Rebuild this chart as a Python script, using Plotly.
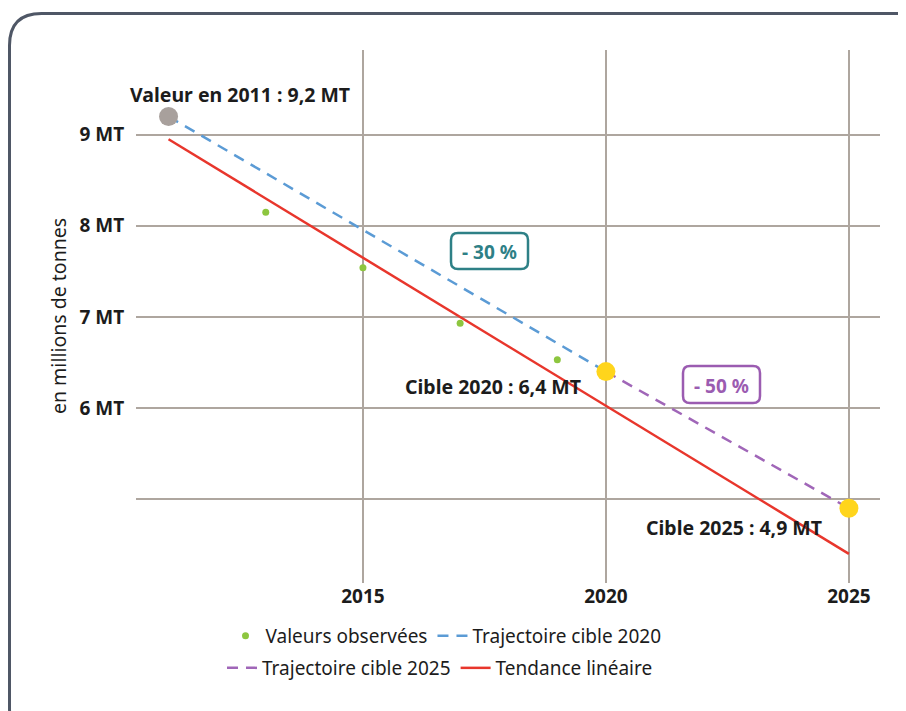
import plotly.graph_objects as go

# Donnees
annees_obs = [2013, 2015, 2017, 2019]
valeurs_obs = [8.15, 7.54, 6.93, 6.53]

annees_cible_2020 = [2011, 2020]
valeurs_cible_2020 = [9.2, 6.4]

annees_cible_2025 = [2020, 2025]
valeurs_cible_2025 = [6.4, 4.9]

annees_tendance = [2011, 2025]
valeurs_tendance = [8.95, 4.40]

annee_ref, valeur_ref = [2011], [9.2]
annees_cibles, valeurs_cibles = [2020, 2025], [6.4, 4.9]

x_ticks = [2015, 2020, 2025]
y_ticks = [5, 6, 7, 8, 9]
y_ticktext = ["", "6 MT", "7 MT", "8 MT", "9 MT"]

FONT = "Noto Sans"
TXT = "#1c1c1c"
GRID = "#aea69f"

fig = go.Figure()

fig.add_trace(go.Scatter(
    x=annees_tendance, y=valeurs_tendance, mode="lines",
    line=dict(color="#e8362c", width=2.5),
    name="Tendance linéaire", legend="legend2", legendrank=4,
))
fig.add_trace(go.Scatter(
    x=annees_cible_2020, y=valeurs_cible_2020, mode="lines",
    line=dict(color="#5b9bd5", width=2.5, dash="11px,8px"),
    name="Trajectoire cible 2020", legend="legend", legendrank=2,
))
fig.add_trace(go.Scatter(
    x=annees_cible_2025, y=valeurs_cible_2025, mode="lines",
    line=dict(color="#a066b8", width=2.5, dash="11px,8px"),
    name="Trajectoire cible 2025", legend="legend2", legendrank=3,
))
fig.add_trace(go.Scatter(
    x=annees_obs, y=valeurs_obs, mode="markers",
    marker=dict(color="#8dc63f", size=7),
    name="Valeurs observées", legend="legend", legendrank=1,
))
fig.add_trace(go.Scatter(
    x=annee_ref, y=valeur_ref, mode="markers",
    marker=dict(color="#a8a09c", size=19), showlegend=False,
))
fig.add_trace(go.Scatter(
    x=annees_cibles, y=valeurs_cibles, mode="markers",
    marker=dict(color="#ffd51c", size=19), showlegend=False,
))

annots = [
    dict(x=2012.47, y=9.44, text="<b>Valeur en 2011 : 9,2 MT</b>"),
    dict(x=2017.67, y=6.24, text="<b>Cible 2020 : 6,4 MT</b>"),
    dict(x=2022.63, y=4.69, text="<b>Cible 2025 : 4,9 MT</b>"),
]
for a in annots:
    fig.add_annotation(**a, showarrow=False,
                       font=dict(family=FONT, size=19.5, color=TXT))

# la page ajoute une marge de 8 px : coordonnees de reference -> locales
OFF = 8
W, H = 898, 703
L, R, T, B = 128, 26, 42, 128
pw, ph = W - L - R, H - T - B


def px(x):
    return (x - OFF - L) / pw


def py(y):
    return (H - B - (y - OFF)) / ph


def rounded_rect(x0, y0, x1, y1, r):
    return (f"M {px(x0)},{py(y0 + r)} Q {px(x0)},{py(y0)} {px(x0 + r)},{py(y0)} "
            f"L {px(x1 - r)},{py(y0)} Q {px(x1)},{py(y0)} {px(x1)},{py(y0 + r)} "
            f"L {px(x1)},{py(y1 - r)} Q {px(x1)},{py(y1)} {px(x1 - r)},{py(y1)} "
            f"L {px(x0 + r)},{py(y1)} Q {px(x0)},{py(y1)} {px(x0)},{py(y1 - r)} Z")


# pastilles "- 30 %" et "- 50 %"
for (bx0, by0, bx1, by1), txt, col in [((451, 233, 528, 269), "- 30 %", "#2e8086"),
                                       ((683, 366, 760, 403), "- 50 %", "#9b5cb1")]:
    fig.add_shape(type="path", path=rounded_rect(bx0, by0, bx1, by1, 7),
                  xref="paper", yref="paper", fillcolor="white",
                  line=dict(color=col, width=2.5), layer="above")
    fig.add_annotation(x=px((bx0 + bx1) / 2), y=py((by0 + by1) / 2 + 1),
                       xref="paper", yref="paper", text=f"<b>{txt}</b>",
                       showarrow=False, xanchor="center", yanchor="middle",
                       font=dict(family=FONT, size=19, color=col))

fig.add_annotation(x=px(58), y=py(316), xref="paper", yref="paper",
                   text="en millions de tonnes", textangle=-90,
                   xanchor="center", yanchor="middle", showarrow=False,
                   font=dict(family=FONT, size=19.5, color=TXT))

# cadre arrondi autour du graphique
fig.add_shape(type="path", path=rounded_rect(9.5, 13.5, 930, 740, 32),
              xref="paper", yref="paper",
              line=dict(color="#4f5766", width=3), layer="below")

legend_common = dict(orientation="h", xanchor="center", yanchor="middle",
                     font=dict(family=FONT, size=19, color=TXT),
                     bgcolor="rgba(0,0,0,0)", itemwidth=30)

fig.update_layout(
    width=W, height=H,
    margin=dict(l=L, r=R, t=T, b=B),
    paper_bgcolor="white", plot_bgcolor="white",
    font=dict(family=FONT, color=TXT),
    showlegend=True,
    legend=dict(**legend_common, x=px(446), y=py(636)),
    legend2=dict(**legend_common, x=px(440), y=py(668)),
    xaxis=dict(
        range=[2010.33, 2025.64], tickvals=x_ticks,
        ticktext=[f"<b>{v}</b>" for v in x_ticks],
        showgrid=True, gridcolor=GRID, gridwidth=2,
        zeroline=False, showline=False,
        ticks="", tickfont=dict(family=FONT, size=19, color=TXT),
    ),
    yaxis=dict(
        range=[4.08, 9.93], tickvals=y_ticks,
        ticktext=[f"<b>{t}</b>" if t else "" for t in y_ticktext],
        showgrid=True, gridcolor=GRID, gridwidth=2,
        zeroline=False, showline=False,
        ticks="outside", ticklen=7, tickcolor="rgba(0,0,0,0)",
        tickfont=dict(family=FONT, size=19, color=TXT),
    ),
)

fig.write_html("out.html")
